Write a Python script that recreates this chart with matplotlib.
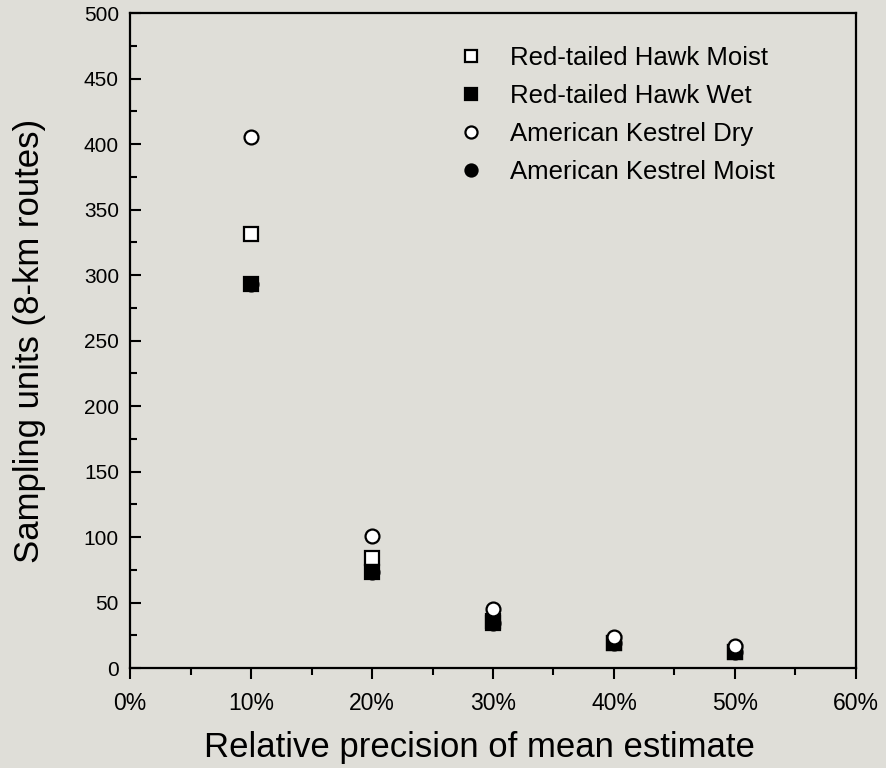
import matplotlib.pyplot as plt
from matplotlib.ticker import MultipleLocator, FuncFormatter

plt.rcParams['font.family'] = ['Liberation Sans', 'DejaVu Sans']

precision = [10, 20, 30, 40, 50]
rth_moist = [331, 84, 36, 19, 12]
rth_wet = [293, 73, 34, 19, 12]
ak_dry = [405, 101, 45, 24, 17]
ak_moist = [293, 73, 34, 19, 12]

bg = '#dfded8'
fig = plt.figure(figsize=(8.87, 7.68), dpi=100, facecolor=bg)
ax = fig.add_axes([0.1466, 0.1302, 0.8184, 0.8528])
ax.set_facecolor(bg)

ms = 10
mew = 1.6
h4, = ax.plot(precision, ak_moist, 'o', color='black', ms=ms, mew=mew, zorder=2,
              label='American Kestrel Moist')
h1, = ax.plot(precision, rth_moist, 's', mfc='white', mec='black', ms=ms, mew=mew, zorder=3,
              label='Red-tailed Hawk Moist')
h2, = ax.plot(precision, rth_wet, 's', color='black', ms=ms, mew=mew, zorder=4,
              label='Red-tailed Hawk Wet')
h3, = ax.plot(precision, ak_dry, 'o', mfc='white', mec='black', ms=ms, mew=mew, zorder=5,
              label='American Kestrel Dry')

ax.set_xlim(0, 60)
ax.set_ylim(0, 500)
ax.xaxis.set_major_locator(MultipleLocator(10))
ax.xaxis.set_minor_locator(MultipleLocator(5))
ax.yaxis.set_major_locator(MultipleLocator(50))
ax.yaxis.set_minor_locator(MultipleLocator(25))
ax.xaxis.set_major_formatter(FuncFormatter(lambda v, p: f'{v:.0f}%'))

ax.tick_params(axis='x', which='major', direction='out', length=8, width=1.5,
               labelsize=16.5, pad=9)
ax.tick_params(axis='x', which='minor', direction='out', length=5, width=1.5)
ax.tick_params(axis='y', which='major', direction='in', length=8, width=1.5,
               labelsize=15, pad=8)
ax.tick_params(axis='y', which='minor', direction='in', length=5, width=1.5)
for s in ax.spines.values():
    s.set_linewidth(1.6)

ax.set_xlabel('Relative precision of mean estimate', fontsize=25, labelpad=12)
ax.xaxis.label.set_x(0.481)
ax.set_ylabel('Sampling units (8-km routes)', fontsize=25, labelpad=27)

ax.legend(handles=[h1, h2, h3, h4], loc='upper left', bbox_to_anchor=(0.4525, 0.95),
          frameon=False, fontsize=18.5, labelspacing=0.55, handletextpad=1.0,
          handlelength=1.0, borderpad=0, borderaxespad=0, markerscale=0.87)

fig.savefig('out.png', dpi=100, facecolor=bg)
